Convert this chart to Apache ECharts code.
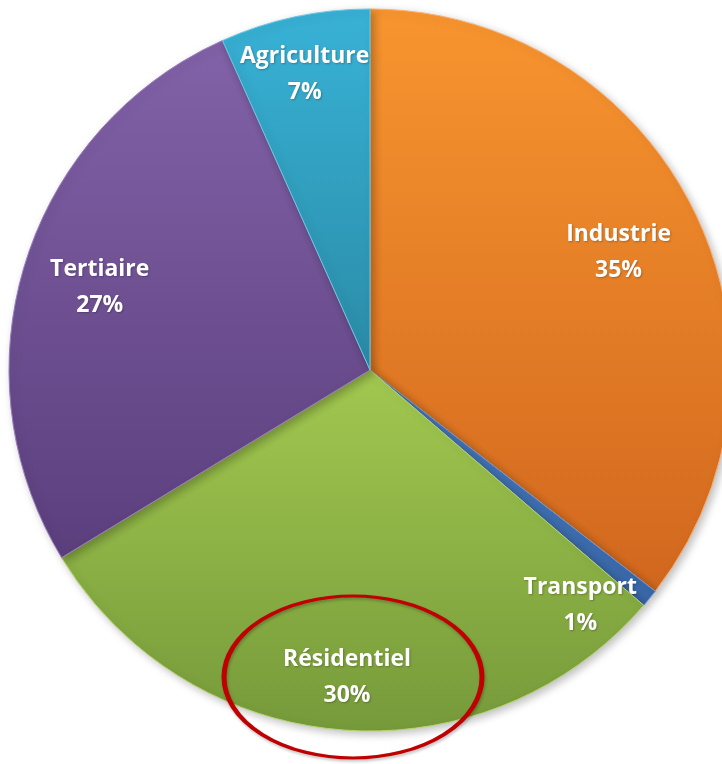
<!DOCTYPE html>
<html><head><meta charset="utf-8">
<script src="https://cdn.jsdelivr.net/npm/echarts@6/dist/echarts.min.js"></script>
<style>html,body{margin:0;padding:0;background:#fff}#c{width:722px;height:764px}</style>
</head><body><div id="c"></div>
<script>
const categories = ['Industrie', 'Transport', 'Résidentiel', 'Tertiaire', 'Agriculture'];
const values = [35.5, 0.8, 30.0, 27.0, 6.7];
const percentLabels = ['35%', '1%', '30%', '27%', '7%'];

const topColors = ['#F8952F', '#4A7CC2', '#A2C850', '#8262A8', '#38B2D6'];
const bottomColors = ['#D1671E', '#3866A6', '#769A3A', '#5B3F7D', '#2A8BA6'];
const borderColors = ['#FAB070', '#6F98D3', '#B5D46E', '#9A7DBD', '#6CC8E3'];
const labelOffsets = [[-15, 12], [-17, 50], [1, 15], [10, 5], [-4, -9]];

const chart = echarts.init(document.getElementById('c'));
const cx = 370, cy = 370, R = 361;

const baseData = categories.map((n, i) => ({
  name: n, value: values[i],
  itemStyle: {
    color: new echarts.graphic.LinearGradient(0, 0, 0, 1, [
      {offset: 0, color: topColors[i]}, {offset: 1, color: bottomColors[i]}]),
    borderColor: borderColors[i], borderWidth: 1
  }
}));
const labelData = categories.map((n, i) => ({
  name: n, value: values[i],
  label: {offset: labelOffsets[i]}
}));

chart.setOption({
  animation: false,
  series: [
    {
      type: 'pie', center: [cx, cy], radius: [0, R], startAngle: 90, clockwise: true,
      label: {show: false}, labelLine: {show: false}, silent: true,
      itemStyle: {shadowBlur: 8, shadowOffsetX: 3, shadowOffsetY: 3, shadowColor: 'rgba(0,0,0,0.25)'},
      data: baseData
    },
    {
      type: 'pie', center: [cx, cy], radius: [220, R], startAngle: 90, clockwise: true,
      silent: true, itemStyle: {color: 'rgba(0,0,0,0)', borderWidth: 0},
      labelLine: {show: false},
      label: {
        show: true, position: 'inside', color: '#fff',
        fontFamily: 'Open Sans', fontWeight: 'bold', fontSize: 23, lineHeight: 36,
        textShadowColor: 'rgba(0,0,0,0.25)', textShadowBlur: 2, textShadowOffsetX: 1, textShadowOffsetY: 1,
        formatter: p => p.name + '\n' + percentLabels[p.dataIndex]
      },
      data: labelData
    }
  ],
  graphic: [{
    type: 'circle', x: 353, y: 677, z: 100, zlevel: 1,
    shape: {cx: 0, cy: 0, r: 129},
    scaleY: 81 / 129,
    style: {fill: 'none', stroke: '#C00000', lineWidth: 5, strokeNoScale: true,
      shadowColor: 'rgba(0,0,0,0.25)', shadowBlur: 3, shadowOffsetX: 1, shadowOffsetY: 2},
    silent: true
  }]
});
</script></body></html>
